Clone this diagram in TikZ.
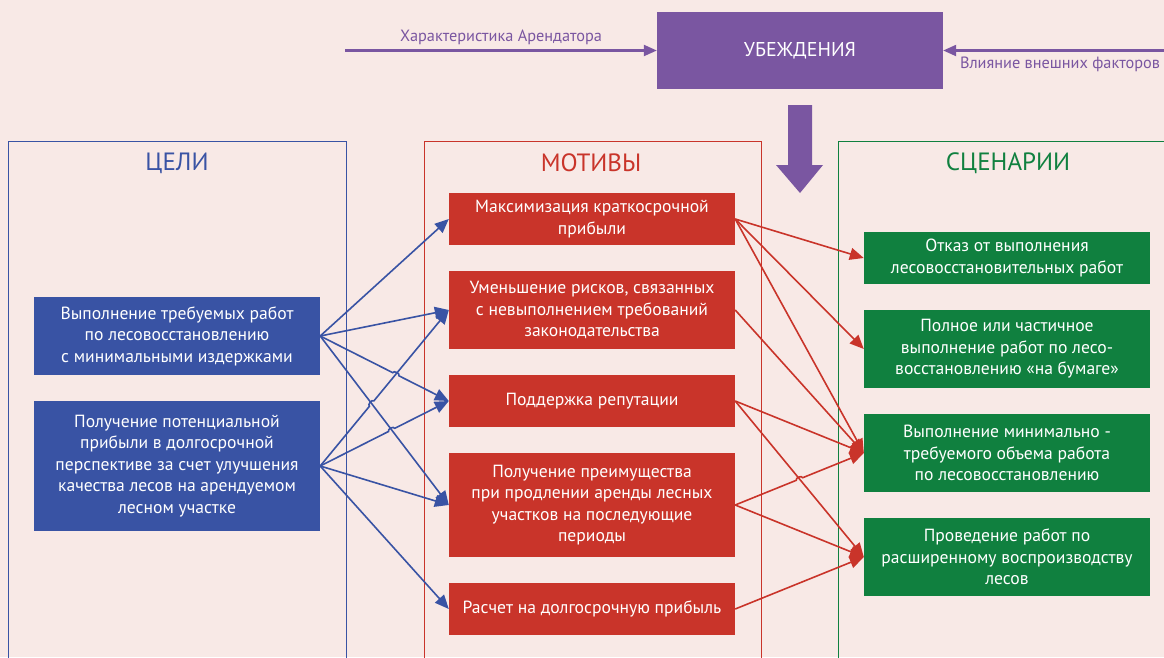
\documentclass[tikz,border=0pt]{standalone}
\usepackage{fontspec}
\setmainfont{PT Sans}
\usetikzlibrary{calc,arrows.meta,intersections}
\definecolor{bgpink}{HTML}{F8E9E6}
\definecolor{purp}{HTML}{7A56A1}
\definecolor{goalblue}{HTML}{3953A4}
\definecolor{motred}{HTML}{C9342A}
\definecolor{scengreen}{HTML}{10803F}

\begin{document}
\begin{tikzpicture}[x=1pt,y=-1pt]

\tikzset{
box/.style={minimum width=286pt,inner sep=0pt,align=center,text=white,font=\fontsize{17.6}{21.5}\selectfont},
goal/.style={box,fill=goalblue},
motive/.style={box,fill=motred},
scene/.style={box,fill=scengreen},
coltitle/.style={font=\fontsize{25}{30}\selectfont},
sidelabel/.style={font=\fontsize{16.3}{18}\selectfont,text=purp},
goalarrow/.style={-{Triangle[length=14pt,width=12pt]},goalblue,line width=1.6pt},
motarrow/.style={-{Triangle[length=14pt,width=12pt]},motred,line width=1.6pt},
inarrow/.style={-{Triangle[length=13pt,width=11pt]},purp,line width=2.2pt},
hop/.style={bend left=90}
}

\useasboundingbox (0,0) rectangle (1164,657);
\fill[bgpink] (0,0) rectangle (1164,657);

% Columns
\draw[goalblue,line width=1pt] (8,665) |- (346,141) -- (346,665);
\draw[motred,line width=1pt] (424,665) |- (761,141) -- (761,665);
\draw[scengreen,line width=1pt] (838,665) |- (1175,141);

\node[coltitle,text=goalblue] (tgoal) at (177,163) {ЦЕЛИ};
\node[coltitle,text=motred] (tmot) at (591,163) {МОТИВЫ};
\node[coltitle,text=scengreen] (tscen) at (1008,163) {СЦЕНАРИИ};

% Beliefs
\node[box,fill=purp,minimum height=77pt,font=\fontsize{20}{24}\selectfont] (bel) at (800,50.5) {УБЕЖДЕНИЯ};
\coordinate (lin) at (345,50.5);
\coordinate (rin) at (1164,50.5);
\draw[inarrow] (lin) -- (bel.west);
\draw[inarrow] (rin) -- (bel.east);
\node[sidelabel] (llab) at (501,37) {Характеристика Арендатора};
\node[sidelabel] (rlab) at (1060,64) {Влияние внешних факторов};
\fill[purp] (788,105) -- (812,105) -- (812,165) -- (823,165) -- (800,193) -- (776,165) -- (788,165) -- cycle;

% Goals
\node[goal,minimum height=78pt] (b1) at (177,336) {Выполнение требуемых работ\\по лесовосстановлению\\с минимальными издержками};
\node[goal,minimum height=130pt] (b2) at (177,466) {Получение потенциальной\\прибыли в долгосрочной\\перспективе за счет улучшения\\качества лесов на арендуемом\\лесном участке};

% Motives
\node[motive,minimum height=52pt] (r1) at (592,219) {Максимизация краткосрочной\\прибыли};
\node[motive,minimum height=78pt] (r2) at (592,310) {Уменьшение рисков, связанных\\с невыполнением требований\\законодательства};
\node[motive,minimum height=52pt] (r3) at (592,401) {Поддержка репутации};
\node[motive,minimum height=104pt] (r4) at (592,505) {Получение преимущества\\при продлении аренды лесных\\участков на последующие\\периоды};
\node[motive,minimum height=52pt] (r5) at (592,609) {Расчет на долгосрочную прибыль};

% Scenarios
\node[scene,minimum height=52pt] (g1) at (1007,258) {Отказ от выполнения\\лесовосстановительных работ};
\node[scene,minimum height=78pt] (g2) at (1007,349) {Полное или частичное\\выполнение работ по лесо-\\восстановлению «на бумаге»};
\node[scene,minimum height=78pt] (g3) at (1007,453) {Выполнение минимально -\\требуемого объема работа\\по лесовосстановлению};
\node[scene,minimum height=78pt] (g4) at (1007,557) {Проведение работ по\\расширенному воспроизводству\\лесов};

% Crossings
\path[name path=b1r3] (b1.east) -- (r3.west);
\path[name path=b1r4] (b1.east) -- (r4.west);
\path[name path=b2r2] (b2.east) -- (r2.west);
\path[name path=b2r3] (b2.east) -- (r3.west);
\path[name path=r3g4] (r3.east) -- (g4.west);
\path[name path=r4g3] (r4.east) -- (g3.west);
\path[name intersections={of=b1r3 and b2r2,by=cross1}];
\path[name intersections={of=b2r2 and b1r4,by=cross2}];
\path[name intersections={of=b2r3 and b1r4,by=cross3}];
\path[name intersections={of=r4g3 and r3g4,by=cross4}];

% Goals to motives
\draw[goalarrow] (b1.east) -- (r1.west);
\draw[goalarrow] (b1.east) -- (r2.west);
\draw[goalarrow] (b1.east) -- ($(cross1)!3.5pt!(b1.east)$) to[hop] ($(cross1)!3.5pt!(r3.west)$) -- (r3.west);
\draw[goalarrow] (b1.east) -- (r4.west);
\draw[goalarrow] (b2.east) -- ($(cross2)!3.5pt!(b2.east)$) to[hop] ($(cross2)!3.5pt!(r2.west)$) -- (r2.west);
\draw[goalarrow] (b2.east) -- ($(cross3)!3.5pt!(b2.east)$) to[hop] ($(cross3)!3.5pt!(r3.west)$) -- (r3.west);
\draw[goalarrow] (b2.east) -- (r4.west);
\draw[goalarrow] (b2.east) -- (r5.west);

% Motives to scenarios
\draw[motarrow] (r1.east) -- (g1.west);
\draw[motarrow] (r1.east) -- (g2.west);
\draw[motarrow] (r1.east) -- (g3.west);
\draw[motarrow] (r2.east) -- (g3.west);
\draw[motarrow] (r3.east) -- (g3.west);
\draw[motarrow] (r3.east) -- (g4.west);
\draw[motarrow] (r4.east) -- ($(cross4)!3.5pt!(r4.east)$) to[hop] ($(cross4)!3.5pt!(g3.west)$) -- (g3.west);
\draw[motarrow] (r4.east) -- (g4.west);
\draw[motarrow] (r5.east) -- (g4.west);

\end{tikzpicture}
\end{document}
